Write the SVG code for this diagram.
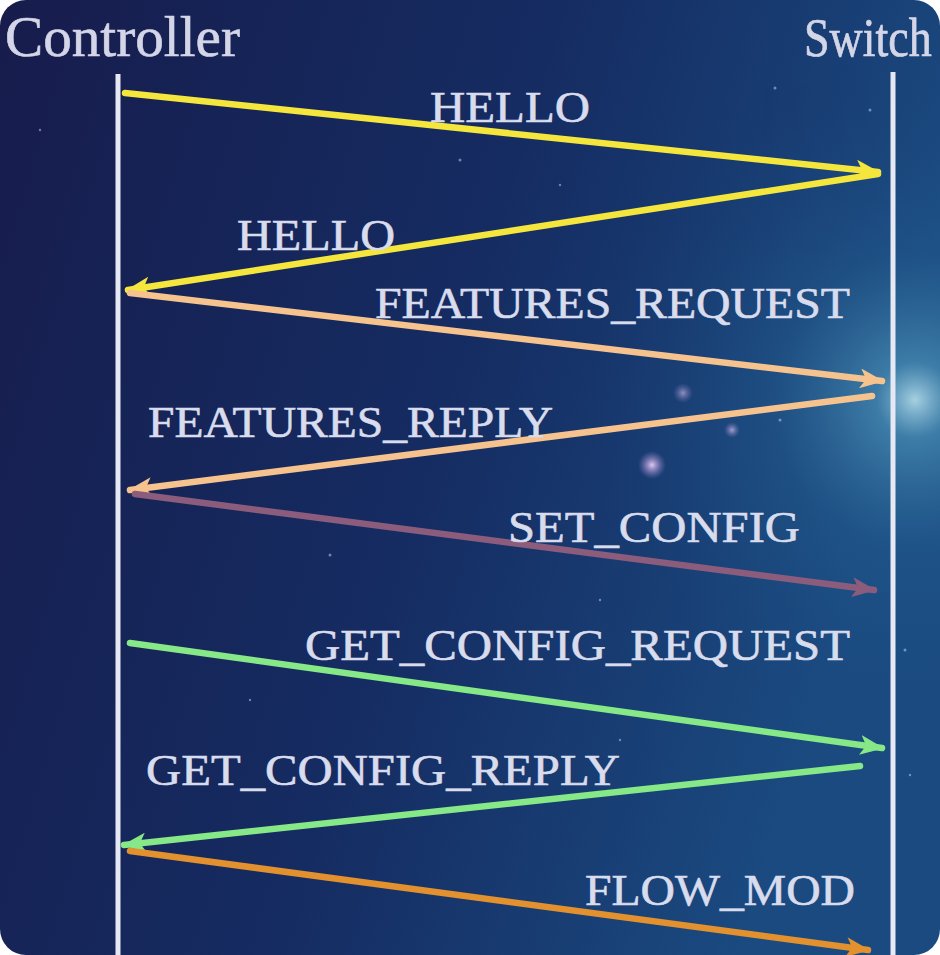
<svg xmlns="http://www.w3.org/2000/svg" width="940" height="955" viewBox="0 0 940 955">
<style>
.lbl{font-family:"Liberation Serif","Times New Roman",serif;font-size:44px;fill:#d9dcec;stroke:#d9dcec;stroke-width:0.6}
.title{font-family:"Liberation Serif","Times New Roman",serif;font-size:56px;fill:#d4d6e8;stroke:#d4d6e8;stroke-width:0.6}
.life{stroke:#e6e8f4;stroke-width:5;fill:none}
.msg{stroke-width:6.5;fill:none;stroke-linecap:round}
.star{fill:#cfd8ff}
</style>
<defs>
<linearGradient id="bg" x1="0" y1="0" x2="1" y2="0.3">
<stop offset="0" stop-color="#171c4c"/>
<stop offset="0.55" stop-color="#152c62"/>
<stop offset="1" stop-color="#1a4a80"/>
</linearGradient>
<radialGradient id="glow" cx="915" cy="400" r="320" gradientUnits="userSpaceOnUse">
<stop offset="0" stop-color="#bfe8f2" stop-opacity="0.85"/>
<stop offset="0.12" stop-color="#5aa6c8" stop-opacity="0.55"/>
<stop offset="0.45" stop-color="#2a6a9a" stop-opacity="0.3"/>
<stop offset="1" stop-color="#1a4a80" stop-opacity="0"/>
</radialGradient>
<radialGradient id="pink" cx="0.5" cy="0.5" r="0.5">
<stop offset="0" stop-color="#f0d8ff" stop-opacity="0.9"/>
<stop offset="1" stop-color="#b080d0" stop-opacity="0"/>
</radialGradient>
<clipPath id="card"><rect x="0" y="0" width="940" height="955" rx="26"/></clipPath>
<marker id="aY" viewBox="0 0 24 20" refX="22" refY="10" markerWidth="24" markerHeight="20" markerUnits="userSpaceOnUse" orient="auto"><path d="M0,0 L24,10 L0,20 L6,10 Z" fill="#f4e63c"/></marker>
<marker id="aP" viewBox="0 0 24 20" refX="22" refY="10" markerWidth="24" markerHeight="20" markerUnits="userSpaceOnUse" orient="auto"><path d="M0,0 L24,10 L0,20 L6,10 Z" fill="#f6c28e"/></marker>
<marker id="aM" viewBox="0 0 24 20" refX="22" refY="10" markerWidth="24" markerHeight="20" markerUnits="userSpaceOnUse" orient="auto"><path d="M0,0 L24,10 L0,20 L6,10 Z" fill="#8c5c7c"/></marker>
<marker id="aG" viewBox="0 0 24 20" refX="22" refY="10" markerWidth="24" markerHeight="20" markerUnits="userSpaceOnUse" orient="auto"><path d="M0,0 L24,10 L0,20 L6,10 Z" fill="#86e886"/></marker>
<marker id="aO" viewBox="0 0 24 20" refX="22" refY="10" markerWidth="24" markerHeight="20" markerUnits="userSpaceOnUse" orient="auto"><path d="M0,0 L24,10 L0,20 L6,10 Z" fill="#e2912e"/></marker>
</defs>
<rect width="940" height="955" fill="#ffffff"/>
<g clip-path="url(#card)">
<rect width="940" height="955" fill="url(#bg)"/>
<rect width="940" height="955" fill="url(#glow)"/>
<circle cx="652" cy="465" r="14" fill="url(#pink)"/>
<circle cx="683" cy="393" r="10" fill="url(#pink)" opacity="0.6"/>
<circle cx="732" cy="430" r="8" fill="url(#pink)" opacity="0.7"/>
<g class="star" opacity="0.5">
<circle cx="460" cy="160" r="1.5"/><circle cx="775" cy="88" r="1.5"/><circle cx="870" cy="110" r="1.5"/>
<circle cx="40" cy="130" r="1.2"/><circle cx="330" cy="555" r="1.5"/><circle cx="600" cy="600" r="1.2"/>
<circle cx="905" cy="650" r="1.5"/><circle cx="250" cy="700" r="1.2"/><circle cx="780" cy="420" r="1.5"/>
<circle cx="620" cy="740" r="1.2"/><circle cx="560" cy="185" r="1.2"/><circle cx="910" cy="775" r="1.2"/>
</g>
</g>
<g id="controller">
<text class="title" x="5" y="56" textLength="235" lengthAdjust="spacingAndGlyphs">Controller</text>
<line class="life" x1="118" y1="74" x2="118" y2="955"/>
</g>
<g id="switch">
<text class="title" transform="translate(804,56) scale(1,1.2)" x="0" y="0" style="font-size:46px">Switch</text>
<line class="life" x1="893" y1="72" x2="893" y2="955"/>
</g>
<g id="connectors">
<line class="msg" x1="125" y1="93" x2="878" y2="172" stroke="#f4e63c" marker-end="url(#aY)"/>
<text class="lbl" x="430" y="122" textLength="160" lengthAdjust="spacingAndGlyphs">HELLO</text>
<line class="msg" x1="878" y1="174" x2="128" y2="290" stroke="#f4e63c" marker-end="url(#aY)"/>
<text class="lbl" x="237" y="250" textLength="158" lengthAdjust="spacingAndGlyphs">HELLO</text>
<line class="msg" x1="130" y1="293" x2="882" y2="381" stroke="#f6c28e" marker-end="url(#aP)"/>
<text class="lbl" x="375" y="318" textLength="475" lengthAdjust="spacingAndGlyphs">FEATURES_REQUEST</text>
<line class="msg" x1="872" y1="396" x2="130" y2="490" stroke="#f6c28e" marker-end="url(#aP)"/>
<text class="lbl" x="148" y="437" textLength="405" lengthAdjust="spacingAndGlyphs">FEATURES_REPLY</text>
<line class="msg" x1="135" y1="494" x2="874" y2="590" stroke="#8c5c7c" marker-end="url(#aM)"/>
<text class="lbl" x="508" y="542" textLength="292" lengthAdjust="spacingAndGlyphs">SET_CONFIG</text>
<line class="msg" x1="130" y1="643" x2="882" y2="748" stroke="#86e886" marker-end="url(#aG)"/>
<text class="lbl" x="305" y="660" textLength="545" lengthAdjust="spacingAndGlyphs">GET_CONFIG_REQUEST</text>
<line class="msg" x1="860" y1="766" x2="124" y2="845" stroke="#86e886" marker-end="url(#aG)"/>
<text class="lbl" x="146" y="785" textLength="474" lengthAdjust="spacingAndGlyphs">GET_CONFIG_REPLY</text>
<line class="msg" x1="130" y1="851" x2="868" y2="950" stroke="#e2912e" marker-end="url(#aO)"/>
<text class="lbl" x="585" y="905" textLength="270" lengthAdjust="spacingAndGlyphs">FLOW_MOD</text>
</g>
</svg>
